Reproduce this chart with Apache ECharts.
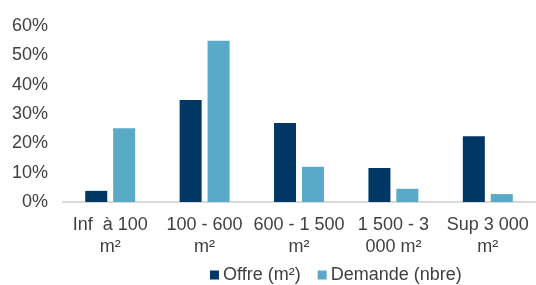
<!DOCTYPE html>
<html>
<head>
    <meta charset="utf-8">
    <title>Offre / Demande</title>
    <script src="https://cdn.jsdelivr.net/npm/echarts@6/dist/echarts.min.js"></script>
    <style>
        html, body { margin: 0; padding: 0; background: #fff; }
        #main { width: 536px; height: 285px; }
    </style>
</head>
<body>
    <div id="main"></div>
    <script>
        // données (en %)
        var categories = ['Inf  à 100\nm²', '100 - 600\nm²', '600 - 1 500\nm²', '1 500 - 3\n000 m²', 'Sup 3 000\nm²'];
        var offre = [3.8, 34.8, 26.9, 11.6, 22.4];
        var demande = [25.1, 55, 12, 4.5, 2.7];
        var seriesNames = ['Offre (m²)', 'Demande (nbre)'];

        var myChart = echarts.init(document.getElementById('main'));
        var font = 'Liberation Sans, Arial, sans-serif';

        var option = {
            animation: false,
            grid: { left: 63, right: 1, top: 26, bottom: 83 },
            legend: {
                data: seriesNames,
                left: 205,
                top: 261,
                itemWidth: 9,
                itemHeight: 9,
                itemGap: 17,
                icon: 'rect',
                textStyle: { fontFamily: font, fontSize: 18, color: '#404040', padding: [0, 0, 0, -1] }
            },
            xAxis: {
                type: 'category',
                data: categories,
                axisLine: { lineStyle: { color: '#d9d9d9', width: 2 } },
                axisTick: { show: false },
                axisLabel: {
                    interval: 0,
                    margin: 12,
                    fontFamily: font,
                    fontSize: 18,
                    lineHeight: 22,
                    color: '#404040'
                }
            },
            yAxis: {
                type: 'value',
                min: 0,
                max: 60,
                interval: 10,
                splitLine: { show: false },
                axisLine: { show: false },
                axisLabel: {
                    formatter: '{value}%',
                    margin: 15,
                    fontFamily: font,
                    fontSize: 18,
                    color: '#404040'
                }
            },
            series: [
                {
                    name: seriesNames[0],
                    type: 'bar',
                    data: offre,
                    barWidth: 22,
                    barGap: '27%',
                    itemStyle: { color: '#003764' }
                },
                {
                    name: seriesNames[1],
                    type: 'bar',
                    data: demande,
                    barWidth: 22,
                    itemStyle: { color: '#58aac7' }
                }
            ]
        };

        myChart.setOption(option);
    </script>
</body>
</html>
